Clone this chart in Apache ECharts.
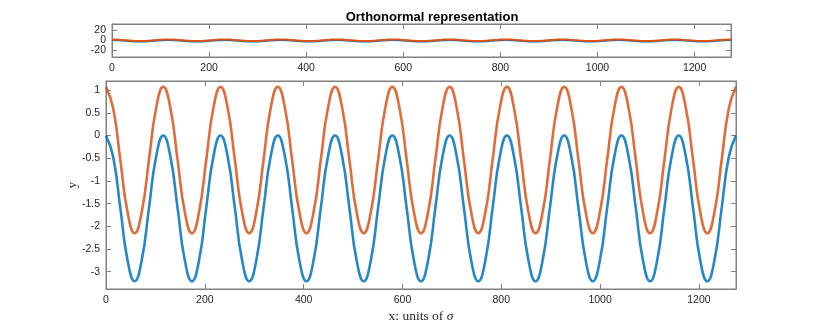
<!DOCTYPE html>
<html>
<head>
<meta charset="utf-8">
<title>Orthonormal representation</title>
<script src="https://cdn.jsdelivr.net/npm/echarts@6/dist/echarts.min.js"></script>
<style>
  html, body { margin: 0; padding: 0; background: #fff; }
  #main { width: 814px; height: 326px; }
</style>
</head>
<body>
<div id="main"></div>
<script>
// sample positions along x (units of sigma), one every eighth of a period
var xVals = [
  0, 14.5, 29.0, 43.5, 58.0, 72.4, 86.9, 101.4,
  115.9, 130.4, 144.9, 159.4, 173.9, 188.4, 202.8, 217.3,
  231.8, 246.3, 260.8, 275.3, 289.8, 304.3, 318.8, 333.2,
  347.7, 362.2, 376.7, 391.2, 405.7, 420.2, 434.7, 449.1,
  463.6, 478.1, 492.6, 507.1, 521.6, 536.1, 550.6, 565.1,
  579.5, 594.0, 608.5, 623.0, 637.5, 652.0, 666.5, 681.0,
  695.5, 709.9, 724.4, 738.9, 753.4, 767.9, 782.4, 796.9,
  811.4, 825.8, 840.3, 854.8, 869.3, 883.8, 898.3, 912.8,
  927.3, 941.8, 956.2, 970.7, 985.2, 999.7, 1014.2, 1028.7,
  1043.2, 1057.7, 1072.2, 1086.6, 1101.1, 1115.6, 1130.1, 1144.6,
  1159.1, 1173.6, 1188.1, 1202.5, 1217.0, 1231.5, 1246.0, 1260.5,
  1275.0
];

// blue curve values
var blueVals = [
  0, -0.47, -1.6, -2.74, -3.21, -2.74, -1.6, -0.47,
  0, -0.47, -1.6, -2.74, -3.21, -2.74, -1.6, -0.47,
  0, -0.47, -1.6, -2.74, -3.21, -2.74, -1.6, -0.47,
  0, -0.47, -1.6, -2.74, -3.21, -2.74, -1.6, -0.47,
  0, -0.47, -1.6, -2.74, -3.21, -2.74, -1.6, -0.47,
  0, -0.47, -1.6, -2.74, -3.21, -2.74, -1.6, -0.47,
  0, -0.47, -1.6, -2.74, -3.21, -2.74, -1.6, -0.47,
  0, -0.47, -1.6, -2.74, -3.21, -2.74, -1.6, -0.47,
  0, -0.47, -1.6, -2.74, -3.21, -2.74, -1.6, -0.47,
  0, -0.47, -1.6, -2.74, -3.21, -2.74, -1.6, -0.47,
  0, -0.47, -1.6, -2.74, -3.21, -2.74, -1.6, -0.47,
  0
];

// orange curve values
var orangeVals = [
  1.07, 0.6, -0.54, -1.68, -2.15, -1.68, -0.54, 0.6,
  1.07, 0.6, -0.54, -1.68, -2.15, -1.68, -0.54, 0.6,
  1.07, 0.6, -0.54, -1.68, -2.15, -1.68, -0.54, 0.6,
  1.07, 0.6, -0.54, -1.68, -2.15, -1.68, -0.54, 0.6,
  1.07, 0.6, -0.54, -1.68, -2.15, -1.68, -0.54, 0.6,
  1.07, 0.6, -0.54, -1.68, -2.15, -1.68, -0.54, 0.6,
  1.07, 0.6, -0.54, -1.68, -2.15, -1.68, -0.54, 0.6,
  1.07, 0.6, -0.54, -1.68, -2.15, -1.68, -0.54, 0.6,
  1.07, 0.6, -0.54, -1.68, -2.15, -1.68, -0.54, 0.6,
  1.07, 0.6, -0.54, -1.68, -2.15, -1.68, -0.54, 0.6,
  1.07, 0.6, -0.54, -1.68, -2.15, -1.68, -0.54, 0.6,
  1.07
];

var xTicks = [0, 200, 400, 600, 800, 1000, 1200];
var yTicksTop = [-20, 0, 20];
var yTicksMain = [-3, -2.5, -2, -1.5, -1, -0.5, 0, 0.5, 1];

var blueData = xVals.map(function (x, i) { return [x, blueVals[i]]; });
var orangeData = xVals.map(function (x, i) { return [x, orangeVals[i]]; });

var axisGrey = '#808080';
var textGrey = '#262626';
var font = 'Liberation Sans';

function plain(v) { return String(v); }

function xAxisOf(grid, pos, ticks, withLabels) {
  return {
    type: 'value', gridIndex: grid, position: pos, min: 0, max: 1275,
    axisLine: { show: true, onZero: false, lineStyle: { color: axisGrey } },
    axisTick: { show: true, inside: true, length: 5, customValues: ticks, lineStyle: { color: axisGrey } },
    axisLabel: {
      show: withLabels, customValues: ticks, formatter: plain, hideOverlap: false,
      color: textGrey, fontFamily: font, fontSize: 10.5, margin: 6
    },
    splitLine: { show: false }
  };
}

function yAxisOf(grid, pos, min, max, ticks, labels) {
  return {
    type: 'value', gridIndex: grid, position: pos, min: min, max: max,
    axisLine: { show: true, onZero: false, lineStyle: { color: axisGrey } },
    axisTick: { show: true, inside: true, length: 5, customValues: ticks, lineStyle: { color: axisGrey } },
    axisLabel: {
      show: labels.length > 0, customValues: labels.length ? labels : ticks, formatter: plain, hideOverlap: false,
      color: textGrey, fontFamily: font, fontSize: 10.5, margin: 6
    },
    splitLine: { show: false }
  };
}

var chart = echarts.init(document.getElementById('main'));

var xTopBottom = xAxisOf(0, 'bottom', xTicks, true);
var xMainBottom = xAxisOf(1, 'bottom', xTicks, true);
xMainBottom.name = '{a|x: units of }{b|σ}';
xMainBottom.nameLocation = 'middle';
xMainBottom.nameGap = 20;
xMainBottom.nameMoveOverlap = false;
xMainBottom.nameTextStyle = {
  rich: {
    a: { fontFamily: 'Liberation Serif', fontSize: 13.5, color: textGrey },
    b: { fontFamily: 'Liberation Serif', fontSize: 13.5, fontStyle: 'italic', color: textGrey }
  }
};

var yMainLeft = yAxisOf(1, 'left', -3.38, 1.2, yTicksMain, yTicksMain);
yMainLeft.name = 'y';
yMainLeft.nameLocation = 'middle';
yMainLeft.nameRotate = 90;
yMainLeft.nameGap = 27;
yMainLeft.nameMoveOverlap = false;
yMainLeft.nameTextStyle = { fontFamily: 'Liberation Serif', fontSize: 13.5, color: textGrey };

// the top panel's three labels sit closer together than their own height,
// so each one goes on its own left axis to keep all of them drawn
var topLeftAxes = yTicksTop.map(function (v) {
  return yAxisOf(0, 'left', -33.8, 31.8, yTicksTop, [v]);
});

var option = {
  animation: false,
  backgroundColor: '#ffffff',
  title: {
    text: 'Orthonormal representation',
    left: 427, top: 6, textAlign: 'center',
    textStyle: { fontFamily: font, fontSize: 13, fontWeight: 'bold', color: '#000' }
  },
  grid: [
    { left: 112, right: 83, top: 24, height: 33, show: true, borderColor: axisGrey, borderWidth: 1, outerBoundsMode: 'none' },
    { left: 106, right: 78, top: 81, height: 208, show: true, borderColor: axisGrey, borderWidth: 1, outerBoundsMode: 'none' }
  ],
  xAxis: [
    xTopBottom,
    xAxisOf(0, 'top', xTicks, false),
    xMainBottom,
    xAxisOf(1, 'top', xTicks, false)
  ],
  yAxis: [
    topLeftAxes[0],
    yAxisOf(0, 'right', -33.8, 31.8, yTicksTop, []),
    yMainLeft,
    yAxisOf(1, 'right', -3.38, 1.2, yTicksMain, []),
    topLeftAxes[1],
    topLeftAxes[2]
  ],
  series: [
    {
      type: 'line', xAxisIndex: 0, yAxisIndex: 0, data: blueData, smooth: 0.5,
      showSymbol: false, lineStyle: { color: '#0072BD', width: 2 }
    },
    {
      type: 'line', xAxisIndex: 0, yAxisIndex: 0, data: orangeData, smooth: 0.5,
      showSymbol: false, lineStyle: { color: '#D95319', width: 2 }
    },
    {
      type: 'line', xAxisIndex: 2, yAxisIndex: 2, data: blueData, smooth: 0.5,
      showSymbol: false, lineStyle: { color: '#0072BD', width: 2.6, opacity: 0.85 }
    },
    {
      type: 'line', xAxisIndex: 2, yAxisIndex: 2, data: orangeData, smooth: 0.5,
      showSymbol: false, lineStyle: { color: '#D95319', width: 2.6, opacity: 0.85 }
    }
  ]
};

chart.setOption(option);
</script>
</body>
</html>
